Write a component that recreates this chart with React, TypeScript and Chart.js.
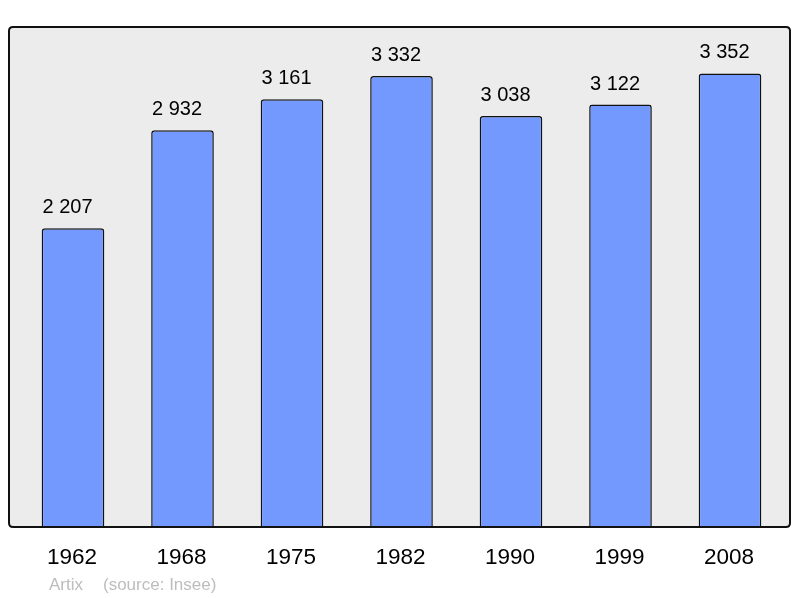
import React, { useEffect, useRef } from "react";
import { Chart, registerables } from "chart.js";

Chart.register(...registerables);

const years = ["1962", "1968", "1975", "1982", "1990", "1999", "2008"];
const population = [2207, 2932, 3161, 3332, 3038, 3122, 3352];
const valueLabels = ["2 207", "2 932", "3 161", "3 332", "3 038", "3 122", "3 352"];
const footerName = "Artix";
const footerSource = "(source: Insee)";

const FONT = "'Liberation Sans', Arial, sans-serif";

function roundRect(ctx: CanvasRenderingContext2D, x: number, y: number, w: number, h: number, r: number) {
  ctx.beginPath();
  ctx.moveTo(x + r, y);
  ctx.lineTo(x + w - r, y);
  ctx.quadraticCurveTo(x + w, y, x + w, y + r);
  ctx.lineTo(x + w, y + h - r);
  ctx.quadraticCurveTo(x + w, y + h, x + w - r, y + h);
  ctx.lineTo(x + r, y + h);
  ctx.quadraticCurveTo(x, y + h, x, y + h - r);
  ctx.lineTo(x, y + r);
  ctx.quadraticCurveTo(x, y, x + r, y);
  ctx.closePath();
}

const FRAME = { x: 9, y: 27, w: 781, h: 500, r: 4 };

const decorPlugin = {
  id: "decor",
  beforeDraw(chart: any) {
    const ctx = chart.ctx as CanvasRenderingContext2D;
    ctx.save();
    roundRect(ctx, FRAME.x, FRAME.y, FRAME.w, FRAME.h, FRAME.r);
    ctx.fillStyle = "#ececec";
    ctx.fill();
    ctx.restore();
  },
  afterDatasetsDraw(chart: any) {
    const ctx = chart.ctx as CanvasRenderingContext2D;
    const meta = chart.getDatasetMeta(0);
    ctx.save();
    roundRect(ctx, FRAME.x, FRAME.y, FRAME.w, FRAME.h, FRAME.r);
    ctx.strokeStyle = "#111111";
    ctx.lineWidth = 2;
    ctx.stroke();

    ctx.fillStyle = "#000";
    ctx.textAlign = "center";
    ctx.textBaseline = "alphabetic";
    ctx.font = `20px ${FONT}`;
    meta.data.forEach((bar: any, i: number) => {
      ctx.fillText(valueLabels[i], bar.x - 5.5, bar.y - 15);
    });
    ctx.font = `22.5px ${FONT}`;
    meta.data.forEach((bar: any, i: number) => {
      ctx.fillText(years[i], bar.x - 1, 564);
    });
    ctx.fillStyle = "#bdbdbd";
    ctx.textAlign = "left";
    ctx.font = `17px ${FONT}`;
    ctx.fillText(footerName, 49, 590);
    ctx.fillText(footerSource, 103, 590);
    ctx.restore();
  },
};

export default function App() {
  const ref = useRef<HTMLCanvasElement>(null);
  useEffect(() => {
    if (!ref.current) return;
    const chart = new Chart(ref.current, {
      type: "bar",
      data: {
        labels: years,
        datasets: [
          {
            data: population,
            backgroundColor: "#7399ff",
            borderColor: "#111111",
            borderWidth: 1.5,
            borderRadius: 3,
            borderSkipped: "bottom",
            barPercentage: 0.572,
            categoryPercentage: 1,
          },
        ],
      },
      options: {
        responsive: false,
        animation: false,
        layout: { padding: { left: 18.25, right: 15.25, top: 27, bottom: 71 } },
        plugins: { legend: { display: false }, tooltip: { enabled: false } },
        scales: {
          x: { display: false },
          y: { display: false, min: 0, max: 3695 },
        },
      },
      plugins: [decorPlugin],
    });
    return () => chart.destroy();
  }, []);
  return (
    <div style={{ position: "absolute", left: 0, top: 0, width: 800, height: 598, background: "#fff" }}>
      <canvas ref={ref} width={800} height={598} />
    </div>
  );
}
